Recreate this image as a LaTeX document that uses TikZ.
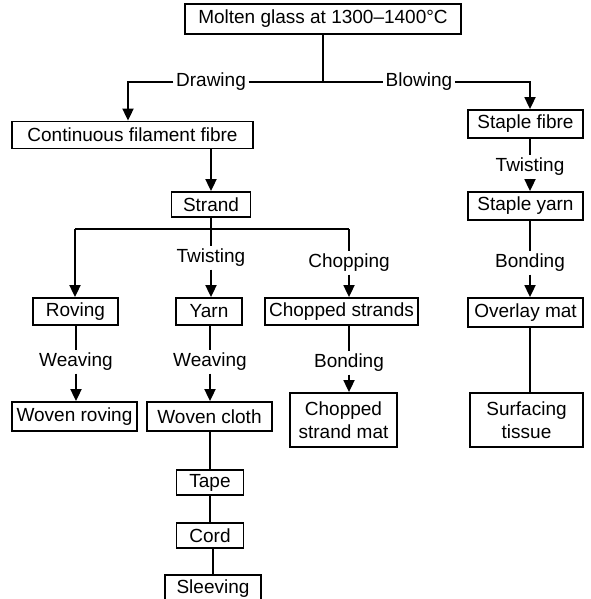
\documentclass[tikz,border=0pt]{standalone}
\usepackage{fontspec}
\setmainfont{Liberation Sans}
\usetikzlibrary{arrows.meta, positioning}
\tikzset{
  glassfig/.style={
    x=1pt, y=-1pt,
    every node/.append style={font=\fontsize{19}{23}\selectfont},
    >={Triangle[length=12pt, width=11pt]},
  },
  stagebox/.style={
    draw, line width=1.8pt, align=center, inner sep=0pt,
    minimum width=80pt, minimum height=27pt,
  },
  % process names sit in the gap of the connector
  proclabel/.style={inner sep=2.5pt},
  link/.style={draw, line width=1.8pt},
  feed/.style={link, ->},
}

\begin{document}
\begin{tikzpicture}[glassfig]
  \useasboundingbox (0,0) rectangle (590,599);
  \node[stagebox, minimum width=276pt, minimum height=30pt] (Molten) at (323,19) {Molten glass at 1300–1400°C};
  \node[stagebox, minimum width=241pt] (ContFilament) at (132.5,135) {Continuous filament fibre};
  \node[stagebox, minimum width=115pt, minimum height=28pt] (StapleFibre) at (525.5,124) {Staple fibre};
  \node[stagebox, minimum width=79pt, minimum height=25pt] (Strand) at (211,204.5) {Strand};
  \node[stagebox, minimum width=115pt, minimum height=28pt] (StapleYarn) at (525.5,206) {Staple yarn};
  \node[stagebox, minimum width=85pt] (Roving) at (75.5,311.5) {Roving};
  \node[stagebox, minimum width=66pt] (Yarn) at (209,311.5) {Yarn};
  \node[stagebox, minimum width=153pt] (ChoppedStrands) at (341.5,311.5) {Chopped strands};
  \node[stagebox, minimum width=115pt, minimum height=29pt] (OverlayMat) at (525.5,312.5) {Overlay mat};
  \node[stagebox, minimum width=125pt, minimum height=29pt] (WovenRoving) at (74.5,416.5) {Woven roving};
  \node[stagebox, minimum width=125pt, minimum height=29pt] (WovenCloth) at (209.5,416.5) {Woven cloth};
  \node[stagebox, minimum width=107pt, minimum height=54pt] (StrandMat) at (343.5,420) {Chopped\\strand mat};
  \node[stagebox, minimum width=113pt, minimum height=54pt] (Surfacing) at (526.5,420) {Surfacing\\tissue};
  \node[stagebox, minimum width=67pt, minimum height=25pt] (Tape) at (210,482.5) {Tape};
  \node[stagebox, minimum width=67pt, minimum height=25pt] (Cord) at (210,535.5) {Cord};
  \node[stagebox, minimum width=96pt] (Sleeving) at (213,588.5) {Sleeving};
  \node[proclabel] (Drawing) at (211,82) {Drawing};
  \node[proclabel] (Blowing) at (419,82) {Blowing};
  \node[proclabel] (TwistYarn) at (211,258) {Twisting};
  \node[proclabel] (Chopping) at (349,263) {Chopping};
  \node[proclabel] (TwistStaple) at (530,167) {Twisting};
  \node[proclabel] (BondStaple) at (530,263) {Bonding};
  \node[proclabel] (WeaveRoving) at (76,362) {Weaving};
  \node[proclabel] (WeaveYarn) at (210,362) {Weaving};
  \node[proclabel] (BondChopped) at (349,363) {Bonding};
  \coordinate (MainSplit) at (Molten.south |- Drawing);
  \coordinate (DrawTurn) at (128,82);
  \coordinate (BlowTurn) at (530,82);
  \coordinate (RovingTurn) at (75,229);
  \coordinate (ChopTurn) at (349,229);
  % drawing / blowing split
  \draw[link] (Molten) -- (MainSplit);
  \draw[link] (Drawing) -- (Blowing);
  \draw[feed] (Drawing) -- (DrawTurn) -- (DrawTurn |- ContFilament.north);
  \draw[feed] (Blowing) -- (BlowTurn) -- (BlowTurn |- StapleFibre.north);
  % continuous filament branch
  \draw[feed] (ContFilament.south -| Strand) -- (Strand);
  \draw[link] (RovingTurn) -- (ChopTurn);
  \draw[link] (Strand) -- (TwistYarn);
  \draw[feed] (TwistYarn) -- (TwistYarn |- Yarn.north);
  \draw[feed] (RovingTurn) -- (RovingTurn |- Roving.north);
  \draw[link] (ChopTurn) -- (Chopping);
  \draw[feed] (Chopping) -- (Chopping |- ChoppedStrands.north);
  \draw[link] (Roving.south -| WeaveRoving) -- (WeaveRoving);
  \draw[feed] (WeaveRoving) -- (WeaveRoving |- WovenRoving.north);
  \draw[link] (Yarn.south -| WeaveYarn) -- (WeaveYarn);
  \draw[feed] (WeaveYarn) -- (WeaveYarn |- WovenCloth.north);
  \draw[link] (ChoppedStrands.south -| BondChopped) -- (BondChopped);
  \draw[feed] (BondChopped) -- (BondChopped |- StrandMat.north);
  \draw[link] (WovenCloth.south -| Tape) -- (Tape);
  \draw[link] (Tape) -- (Cord);
  \draw[link] (Cord.south -| Sleeving) -- (Sleeving);
  % staple fibre branch
  \draw[link] (StapleFibre.south -| TwistStaple) -- (TwistStaple);
  \draw[feed] (TwistStaple) -- (TwistStaple |- StapleYarn.north);
  \draw[link] (StapleYarn.south -| BondStaple) -- (BondStaple);
  \draw[feed] (BondStaple) -- (BondStaple |- OverlayMat.north);
  \draw[link] (OverlayMat.south -| BondStaple) -- (BondStaple |- Surfacing.north);
\end{tikzpicture}
\end{document}
